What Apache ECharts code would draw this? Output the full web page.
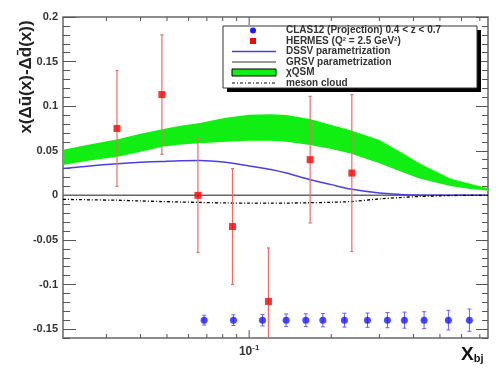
<!DOCTYPE html>
<html><head><meta charset="utf-8">
<script src="https://cdn.jsdelivr.net/npm/echarts@6/dist/echarts.min.js"></script>
<style>html,body{margin:0;padding:0;background:#fff}#c{width:499px;height:390px}</style>
</head><body><div id="c"></div>
<script>
// ---- data ----
const curveX   = [0.0208, 0.026, 0.033, 0.040, 0.048, 0.056, 0.066, 0.082, 0.100, 0.120, 0.137, 0.167, 0.200, 0.235, 0.300, 0.357, 0.420, 0.545, 0.645, 0.750];
const chiUpper = [0.051, 0.057, 0.063, 0.069, 0.074, 0.078, 0.081, 0.087, 0.0905, 0.091, 0.090, 0.0856, 0.079, 0.073, 0.062, 0.049, 0.036, 0.019, 0.013, 0.008];
const chiLower = [0.034, 0.039, 0.0434, 0.049, 0.0546, 0.057, 0.0584, 0.060, 0.0613, 0.0613, 0.060, 0.0565, 0.052, 0.047, 0.036, 0.027, 0.019, 0.0106, 0.007, 0.0054];
const dssv     = [0.030, 0.033, 0.0355, 0.037, 0.038, 0.0388, 0.039, 0.037, 0.033, 0.029, 0.025, 0.0175, 0.012, 0.007, 0.0025, 0.001, 0.0003, 0, 0, 0];
const grsv     = [0, 0, 0, 0, 0, 0, 0, 0, 0, 0, 0, 0, 0, 0, 0, 0, 0, 0, 0, 0];
const meson    = [-0.0045, -0.005, -0.0055, -0.0063, -0.007, -0.0075, -0.008, -0.0085, -0.0088, -0.0088, -0.0087, -0.0083, -0.0078, -0.007, -0.004, -0.0025, -0.0013, -0.0003, 0, 0];

const hermesX   = [0.0328, 0.0479, 0.0649, 0.0869, 0.1177, 0.1673, 0.2378];
const hermesY   = [0.075, 0.113, 0.000, -0.035, -0.119, 0.040, 0.025];
const hermesErr = [0.065, 0.067, 0.064, 0.065, 0.060, 0.071, 0.088];

const clasX   = [0.0684, 0.0876, 0.1119, 0.1366, 0.1613, 0.1862, 0.2234, 0.2713, 0.3211, 0.3706, 0.4375, 0.5370, 0.6412];
const clasY   = [-0.14, -0.14, -0.14, -0.14, -0.14, -0.14, -0.14, -0.14, -0.14, -0.14, -0.14, -0.14, -0.14];
const clasErr = [0.0055, 0.006, 0.0065, 0.007, 0.0072, 0.0075, 0.0078, 0.008, 0.0085, 0.009, 0.0095, 0.011, 0.0125];

const yMajorTicks  = [-0.15, -0.1, -0.05, 0, 0.05, 0.1, 0.15, 0.2];
const yTickLabels  = ['-0.15', '-0.1', '-0.05', '0', '0.05', '0.1', '0.15', '0.2'];
const xMinorTicks  = [0.03, 0.04, 0.05, 0.06, 0.07, 0.08, 0.09, 0.2, 0.3, 0.4, 0.5, 0.6, 0.7];
const xMajorTicks  = [0.1];
const xTickLabel   = ['10', '-1'];
const legendLabels = ['CLAS12 (Projection) 0.4 < z < 0.7', 'HERMES (Q\u00b2 = 2.5 GeV\u00b2)', 'DSSV parametrization', 'GRSV parametrization', '\u03c7QSM', 'meson cloud'];
const yTitle = 'x(\u0394\u016b(x)-\u0394d\u0304(x))';

// ---- chart ----
const XMIN = 0.0208, XMAX = 0.75, YMIN = -0.16, YMAX = 0.2;
const FONT = '"Liberation Sans", Arial, Helvetica, sans-serif';
const yMinorTicks = [];
for (let i = -16; i <= 20; i++) yMinorTicks.push(i / 100);

const pts = (xs, ys) => xs.map((x, i) => [x, ys[i]]);
const errData = (xs, ys, es) => xs.map((x, i) => [x, ys[i], es[i]]);

function errRender(color, cap, lw) {
  return function (params, api) {
    const x = api.value(0), y = api.value(1), e = api.value(2);
    const t = api.coord([x, y + e]), b = api.coord([x, y - e]);
    return {
      type: 'group', children: [
        { type: 'line', shape: { x1: t[0], y1: t[1], x2: b[0], y2: b[1] }, style: { stroke: color, lineWidth: lw } },
        { type: 'line', shape: { x1: t[0] - cap, y1: t[1], x2: t[0] + cap, y2: t[1] }, style: { stroke: color, lineWidth: lw } },
        { type: 'line', shape: { x1: b[0] - cap, y1: b[1], x2: b[0] + cap, y2: b[1] }, style: { stroke: color, lineWidth: lw } }
      ]
    };
  };
}

const tickData = xMinorTicks.map(v => [v, YMIN, 0]).concat(xMajorTicks.map(v => [v, YMIN, 1]));
const bandData = curveX.map((x, i) => [x, chiLower[i], chiUpper[i]]);

const yAxisBase = { type: 'value', min: YMIN, max: YMAX, axisLine: { show: false }, splitLine: { show: false } };

const chart = echarts.init(document.getElementById('c'), null, { renderer: 'canvas' });

// legend graphic
const LX = 223, LY = 26, LW = 254, LH = 62;
const rowY = i => LY + 4.5 + i * 10.5;
const legendG = [
  { type: 'rect', shape: { x: LX + 4, y: LY + 4, width: LW, height: LH }, style: { fill: '#000' }, z: 100 },
  { type: 'rect', shape: { x: LX, y: LY, width: LW, height: LH }, style: { fill: '#fff', stroke: '#333', lineWidth: 1 }, z: 101 },
  { type: 'circle', shape: { cx: 253, cy: rowY(0), r: 3 }, style: { fill: '#1a1aff' }, z: 102 },
  { type: 'rect', shape: { x: 250, y: rowY(1) - 3, width: 6, height: 6 }, style: { fill: '#ff0000' }, z: 102 },
  { type: 'line', shape: { x1: 232, y1: rowY(2), x2: 276, y2: rowY(2) }, style: { stroke: '#4b3fe0', lineWidth: 1.5 }, z: 102 },
  { type: 'line', shape: { x1: 232, y1: rowY(3), x2: 276, y2: rowY(3) }, style: { stroke: '#333', lineWidth: 1 }, z: 102 },
  { type: 'rect', shape: { x: 232, y: rowY(4) - 3.5, width: 44, height: 7 }, style: { fill: '#11ee11', stroke: '#000', lineWidth: 1 }, z: 102 },
  { type: 'line', shape: { x1: 232, y1: rowY(5), x2: 276, y2: rowY(5) }, style: { stroke: '#000', lineWidth: 1.2, lineDash: [3, 2, 1, 2] }, z: 102 }
];
legendLabels.forEach((t, i) => {
  legendG.push({ type: 'text', x: 286, y: rowY(i), z: 102,
    style: { text: t, fill: '#333', font: 'bold 10px ' + FONT, verticalAlign: 'middle', align: 'left' } });
});
legendG.push({ type: 'text', x: 26, y: 77, rotation: Math.PI / 2,
  style: { text: yTitle, fill: '#222', font: 'bold 17px ' + FONT, align: 'center', verticalAlign: 'middle' } });
legendG.push({ type: 'text', x: 461, y: 364,
  style: { text: '{a|X}{b|bj}', verticalAlign: 'bottom', align: 'left',
    rich: { a: { fontSize: 19, fontWeight: 'bold', fontFamily: FONT, fill: '#111', color: '#111' },
            b: { fontSize: 11, fontWeight: 'bold', fontFamily: FONT, fill: '#111', color: '#111', verticalAlign: 'bottom', lineHeight: 14 } } } });

chart.setOption({
  animation: false,
  backgroundColor: '#fff',
  grid: { left: 63, right: 11, top: 17, bottom: 52, show: true, borderColor: '#666', borderWidth: 1.5, backgroundColor: 'transparent', outerBoundsMode: 'none' },
  xAxis: [{
    type: 'log', logBase: 10, min: XMIN, max: XMAX, position: 'bottom',
    axisLine: { show: false }, axisTick: { show: false }, splitLine: { show: false },
    minorTick: { show: false }, minorSplitLine: { show: false },
    axisLabel: {
      margin: 6,
      formatter: v => Math.abs(v - xMajorTicks[0]) < 1e-6 ? '{b|' + xTickLabel[0] + '}{s|' + xTickLabel[1] + '}' : '',
      rich: {
        b: { fontSize: 12, fontWeight: 'bold', fontFamily: FONT, color: '#333' },
        s: { fontSize: 8, fontWeight: 'bold', fontFamily: FONT, color: '#333', padding: [0, 0, 8, 0] }
      }
    }
  }],
  yAxis: [
    Object.assign({}, yAxisBase, { position: 'left',
      axisTick: { show: true, inside: true, length: 13, customValues: yMajorTicks, lineStyle: { color: '#555', width: 1 } },
      axisLabel: { show: true, customValues: yMajorTicks, margin: 5, color: '#333', fontWeight: 'bold', fontSize: 11, fontFamily: FONT,
        formatter: v => { const k = yMajorTicks.findIndex(t => Math.abs(t - v) < 1e-9); return k >= 0 ? yTickLabels[k] : ''; } } }),
    Object.assign({}, yAxisBase, { position: 'left',
      axisTick: { show: true, inside: true, length: 7, customValues: yMinorTicks, lineStyle: { color: '#555', width: 1 } },
      axisLabel: { show: false } }),
    Object.assign({}, yAxisBase, { position: 'right',
      axisTick: { show: true, inside: true, length: 12, customValues: yMajorTicks, lineStyle: { color: '#555', width: 1 } },
      axisLabel: { show: false } }),
    Object.assign({}, yAxisBase, { position: 'right',
      axisTick: { show: true, inside: true, length: 6, customValues: yMinorTicks, lineStyle: { color: '#555', width: 1 } },
      axisLabel: { show: false } })
  ],
  graphic: legendG,
  series: [
    { name: '\u03c7QSM', type: 'custom', clip: true, silent: true, z: 2, data: bandData, encode: { x: 0, y: [1, 2] },
      renderItem: function (params, api) {
        if (params.dataIndexInside !== 0) return null;
        const n = params.dataInsideLength;
        const up = [], lo = [];
        for (let j = 0; j < n; j++) {
          up.push(api.coord([api.value(0, j), api.value(2, j)]));
          lo.push(api.coord([api.value(0, j), api.value(1, j)]));
        }
        return { type: 'polygon', shape: { points: up.concat(lo.reverse()) }, style: { fill: '#11ee11', stroke: null } };
      } },
    { name: 'GRSV', type: 'line', data: pts(curveX, grsv), symbol: 'none', lineStyle: { color: '#666', width: 1.5 }, z: 3 },
    { name: 'DSSV', type: 'line', data: pts(curveX, dssv), smooth: 0.3, symbol: 'none', lineStyle: { color: '#4b3fe0', width: 1.5 }, z: 4 },
    { name: 'meson', type: 'line', data: pts(curveX, meson), smooth: 0.3, symbol: 'none', lineStyle: { color: '#000', width: 1.3, type: [3, 2, 1, 2] }, z: 4 },
    { name: 'ticks', type: 'custom', clip: false, silent: true, z: 5, data: tickData, encode: { x: 0, y: 1 },
      renderItem: function (params, api) {
        const v = api.value(0), maj = api.value(2);
        const b = api.coord([v, YMIN]), t = api.coord([v, YMAX]);
        const L = maj ? 8 : 4;
        return { type: 'group', children: [
          { type: 'line', shape: { x1: b[0], y1: b[1], x2: b[0], y2: b[1] - L }, style: { stroke: '#555', lineWidth: 1 } },
          { type: 'line', shape: { x1: t[0], y1: t[1], x2: t[0], y2: t[1] + L }, style: { stroke: '#555', lineWidth: 1 } }
        ] };
      } },
    { name: 'hermesErr', type: 'custom', clip: true, silent: true, z: 6, data: errData(hermesX, hermesY, hermesErr), encode: { x: 0, y: 1 },
      renderItem: errRender('#f06a6a', 1.5, 1.2) },
    { name: 'clasErr', type: 'custom', clip: true, silent: true, z: 6, data: errData(clasX, clasY, clasErr), encode: { x: 0, y: 1 },
      renderItem: errRender('#6a60ff', 2, 1) },
    { name: 'HERMES', type: 'scatter', data: pts(hermesX, hermesY), symbol: 'rect', symbolSize: 7, itemStyle: { color: '#ff0000' }, z: 7 },
    { name: 'CLAS12', type: 'scatter', data: pts(clasX, clasY), symbol: 'circle', symbolSize: 7, itemStyle: { color: '#1a1aff' }, z: 7 }
  ]
});
</script>
</body></html>
